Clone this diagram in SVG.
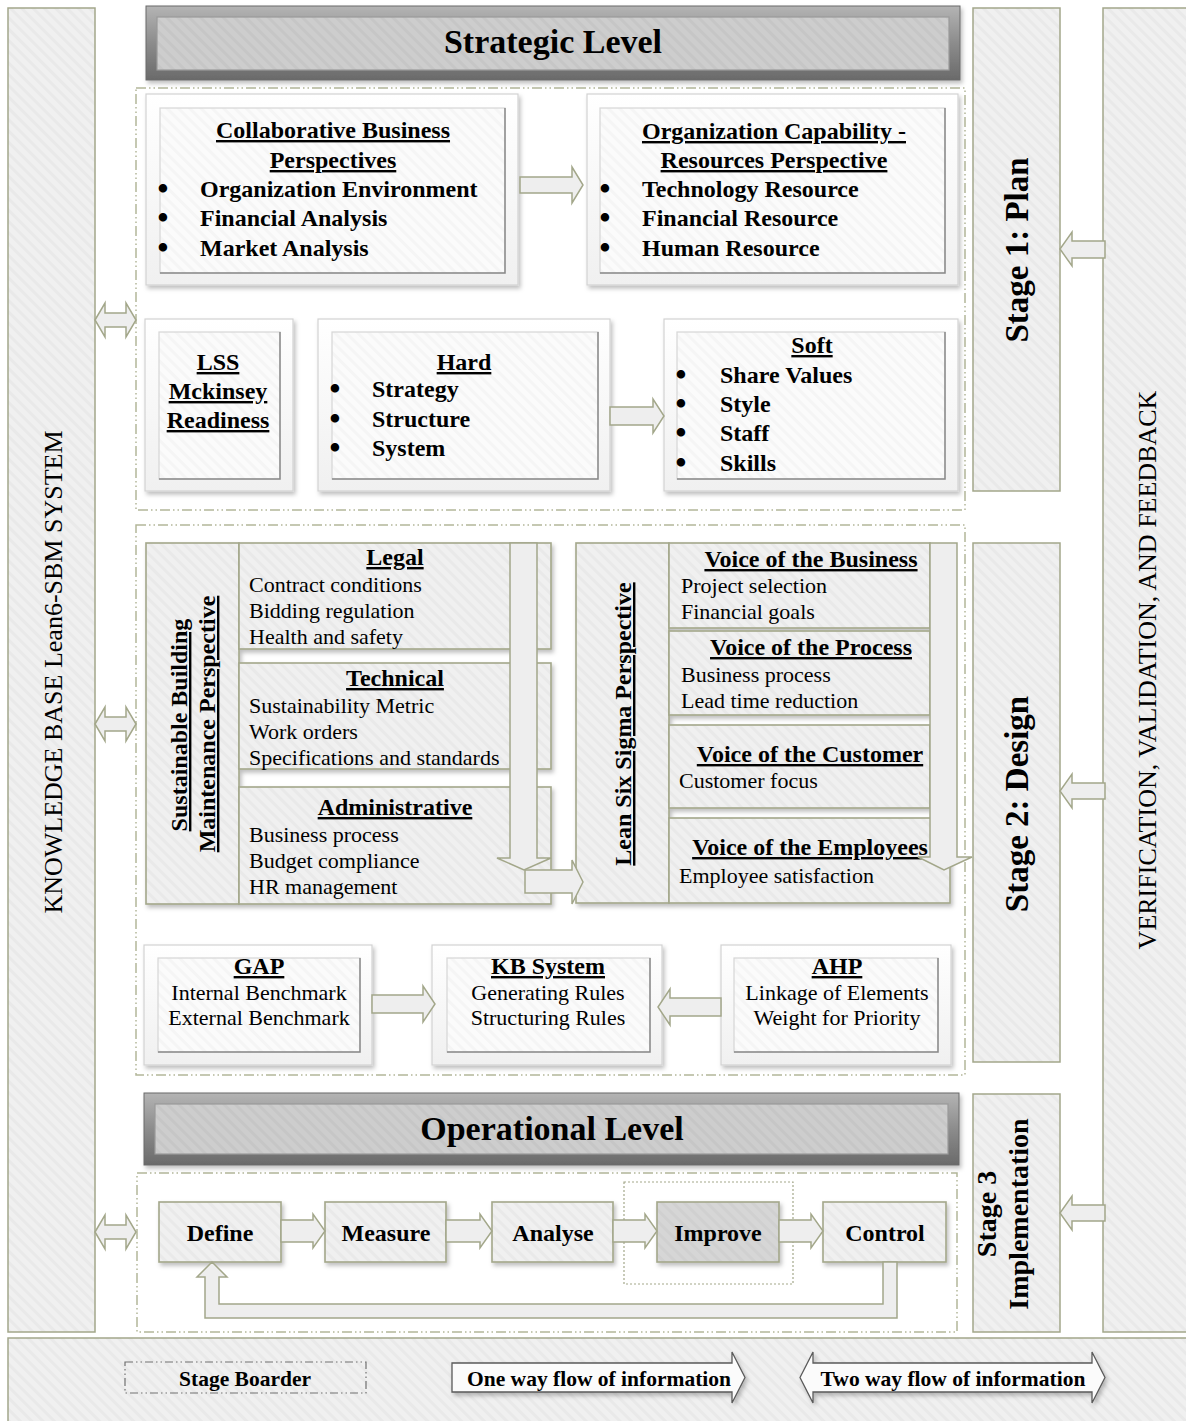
<svg xmlns="http://www.w3.org/2000/svg" width="1186" height="1421" viewBox="0 0 1186 1421">
<defs>
  <pattern id="hatch" width="8" height="8" patternUnits="userSpaceOnUse" patternTransform="rotate(-45)">
    <rect width="8" height="8" fill="#f0f0f0"/>
    <rect width="3" height="8" fill="#e9e9e9"/>
  </pattern>
  <pattern id="hatchW" width="8" height="8" patternUnits="userSpaceOnUse" patternTransform="rotate(-45)">
    <rect width="8" height="8" fill="#fbfbfb"/>
    <rect width="3" height="8" fill="#f5f5f5"/>
  </pattern>
  <pattern id="hatchG" width="8" height="8" patternUnits="userSpaceOnUse" patternTransform="rotate(-45)">
    <rect width="8" height="8" fill="#cdcdcd"/>
    <rect width="3" height="8" fill="#c6c6c6"/>
  </pattern>
  <pattern id="hatchD" width="8" height="8" patternUnits="userSpaceOnUse" patternTransform="rotate(-45)">
    <rect width="8" height="8" fill="#d6d6d6"/>
    <rect width="3" height="8" fill="#d0d0d0"/>
  </pattern>
  <linearGradient id="bevel" x1="0" y1="0" x2="0" y2="1">
    <stop offset="0" stop-color="#b4b4b4"/>
    <stop offset="0.5" stop-color="#8c8c8c"/>
    <stop offset="1" stop-color="#6a6a6a"/>
  </linearGradient>
  <linearGradient id="boxg" x1="0" y1="0" x2="0" y2="1">
    <stop offset="0" stop-color="#ffffff"/>
    <stop offset="1" stop-color="#f0f0f0"/>
  </linearGradient>
  <filter id="sh" x="-10%" y="-10%" width="130%" height="130%">
    <feDropShadow dx="2" dy="3" stdDeviation="2" flood-color="#000" flood-opacity="0.25"/>
  </filter>
  <style>
    .panel{fill:url(#hatch);stroke:#a3a78a;stroke-width:1.5}
    .stage{fill:none;stroke:#b3b699;stroke-width:1.5;stroke-dasharray:10 3 1.5 3 1.5 3}
    .outer{fill:url(#boxg);stroke:#d2d2d2;stroke-width:1.2;filter:url(#sh)}
    .inner{fill:url(#hatchW);stroke:#d6d6d6;stroke-width:1.2}
    .edge{fill:none;stroke:#8a8a8a;stroke-width:1.5}
    .cell{fill:url(#hatch);stroke:#a3a78a;stroke-width:1.6}
    .arrow{fill:#eeeeee;stroke:#a3a78a;stroke-width:1.5;stroke-linejoin:miter}
    .larrow{fill:#fbfbfb;stroke:#5a5a5a;stroke-width:1.3;filter:url(#sh)}
    text{font-family:"Liberation Serif","Times New Roman",serif;fill:#000}
    .tb{font-size:24px;font-weight:bold}
    .bl{font-size:24px;font-weight:bold;font-family:"DejaVu Serif","Liberation Serif",serif}
    .tr{font-size:22px}
    .u{text-decoration:underline}
    .big{font-size:34px;font-weight:bold}
    .stg{font-size:33px;font-weight:bold}
    .side{font-size:26px}
    .leg{font-size:21.5px;font-weight:bold}
    .c{text-anchor:middle}
  </style>
</defs>
<rect x="0" y="0" width="1186" height="1421" fill="#ffffff"/>

<!-- side panels -->
<g id="kb-panel">
  <rect class="panel" x="8" y="8" width="87" height="1324"/>
  <text class="side c" x="62" y="672" transform="rotate(-90 62 672)">KNOWLEDGE BASE Lean6-SBM SYSTEM</text>
</g>
<g id="verification-panel">
  <rect class="panel" x="1103" y="8" width="100" height="1324"/>
  <text class="side c" x="1156" y="670" transform="rotate(-90 1156 670)">VERIFICATION, VALIDATION, AND FEEDBACK</text>
</g>
<g id="stage1">
  <rect class="panel" x="973" y="8" width="87" height="483"/>
  <text class="stg c" x="1028" y="250" transform="rotate(-90 1028 250)">Stage 1: Plan</text>
</g>
<g id="stage2">
  <rect class="panel" x="973" y="543" width="87" height="519"/>
  <text class="stg c" x="1028" y="804" transform="rotate(-90 1028 804)">Stage 2: Design</text>
</g>
<g id="stage3">
  <rect class="panel" x="973" y="1094" width="87" height="238"/>
  <text class="c" style="font-size:28px;font-weight:bold" x="996" y="1214" transform="rotate(-90 996 1214)">Stage 3</text>
  <text class="c" style="font-size:28px;font-weight:bold" x="1028" y="1214" transform="rotate(-90 1028 1214)">Implementation</text>
</g>
<g id="legend-panel">
  <rect class="panel" x="8" y="1338" width="1190" height="90"/>
</g>

<!-- stage borders -->
<g id="stage-borders">
  <rect class="stage" x="136" y="88" width="829" height="422"/>
  <rect class="stage" x="136" y="525" width="829" height="550"/>
  <rect class="stage" x="137" y="1173" width="820" height="159"/>
</g>

<!-- banners -->
<g id="strategic-level">
  <rect x="146" y="6" width="814" height="74" fill="url(#bevel)" stroke="#6a6a6a" stroke-width="1" filter="url(#sh)"/>
  <rect x="157" y="17" width="792" height="53" fill="url(#hatchG)" stroke="#9a9a9a" stroke-width="1.2"/>
  <text class="big c" x="553" y="53">Strategic Level</text>
</g>
<g id="operational-level">
  <rect x="144" y="1093" width="815" height="72" fill="url(#bevel)" stroke="#6a6a6a" stroke-width="1" filter="url(#sh)"/>
  <rect x="155" y="1104" width="793" height="50" fill="url(#hatchG)" stroke="#9a9a9a" stroke-width="1.2"/>
  <text class="big c" x="552" y="1140">Operational Level</text>
</g>

<!-- Stage 1 nodes -->
<g id="collaborative">
  <rect class="outer" x="146" y="94" width="372" height="191"/>
  <rect class="inner" x="160" y="108" width="345" height="165"/>
  <polyline class="edge" points="505,108 505,273 160,273"/>
  <text class="tb u c" x="333" y="138">Collaborative Business</text>
  <text class="tb u c" x="333" y="168">Perspectives</text>
  <text class="bl c" x="163" y="197">•</text>
  <text class="bl c" x="163" y="226">•</text>
  <text class="bl c" x="163" y="256">•</text>
  <text class="tb" x="200" y="197">Organization Environment</text>
  <text class="tb" x="200" y="226">Financial Analysis</text>
  <text class="tb" x="200" y="256">Market Analysis</text>
</g>
<g id="org-capability">
  <rect class="outer" x="587" y="94" width="371" height="191"/>
  <rect class="inner" x="600" y="108" width="345" height="165"/>
  <polyline class="edge" points="945,108 945,273 600,273"/>
  <text class="tb u c" x="774" y="139">Organization Capability -</text>
  <text class="tb u c" x="774" y="168">Resources Perspective</text>
  <text class="bl c" x="605" y="197">•</text>
  <text class="bl c" x="605" y="226">•</text>
  <text class="bl c" x="605" y="256">•</text>
  <text class="tb" x="642" y="197">Technology Resource</text>
  <text class="tb" x="642" y="226">Financial Resource</text>
  <text class="tb" x="642" y="256">Human Resource</text>
</g>
<g id="lss-readiness">
  <rect class="outer" x="145" y="319" width="148" height="172"/>
  <rect class="inner" x="159" y="332" width="121" height="147"/>
  <polyline class="edge" points="280,332 280,479 159,479"/>
  <text class="tb u c" x="218" y="370">LSS</text>
  <text class="tb u c" x="218" y="399">Mckinsey</text>
  <text class="tb u c" x="218" y="428">Readiness</text>
</g>
<g id="hard">
  <rect class="outer" x="318" y="319" width="292" height="172"/>
  <rect class="inner" x="332" y="332" width="266" height="147"/>
  <polyline class="edge" points="598,332 598,479 332,479"/>
  <text class="tb u c" x="464" y="370">Hard</text>
  <text class="bl c" x="335" y="397">•</text>
  <text class="bl c" x="335" y="427">•</text>
  <text class="bl c" x="335" y="456">•</text>
  <text class="tb" x="372" y="397">Strategy</text>
  <text class="tb" x="372" y="427">Structure</text>
  <text class="tb" x="372" y="456">System</text>
</g>
<g id="soft">
  <rect class="outer" x="664" y="319" width="294" height="172"/>
  <rect class="inner" x="677" y="332" width="268" height="147"/>
  <polyline class="edge" points="945,332 945,479 677,479"/>
  <text class="tb u c" x="812" y="353">Soft</text>
  <text class="bl c" x="681" y="383">•</text>
  <text class="bl c" x="681" y="412">•</text>
  <text class="bl c" x="681" y="441">•</text>
  <text class="bl c" x="681" y="471">•</text>
  <text class="tb" x="720" y="383">Share Values</text>
  <text class="tb" x="720" y="412">Style</text>
  <text class="tb" x="720" y="441">Staff</text>
  <text class="tb" x="720" y="471">Skills</text>
</g>

<!-- Stage 2 nodes -->
<g id="sbm-perspective" filter="url(#sh)">
  <rect class="cell" x="146" y="543" width="93" height="361"/>
  <rect class="cell" x="239" y="543" width="312" height="106"/>
  <rect class="cell" x="239" y="663" width="312" height="106"/>
  <rect class="cell" x="239" y="787" width="312" height="117"/>
</g>
<g id="sbm-text">
  <text class="tb u c" x="187" y="725" transform="rotate(-90 187 725)">Sustainable Building</text>
  <text class="tb u c" x="215" y="724" transform="rotate(-90 215 724)">Maintenance Perspective</text>
  <text class="tb u c" x="395" y="565">Legal</text>
  <text class="tr" x="249" y="592">Contract conditions</text>
  <text class="tr" x="249" y="618">Bidding regulation</text>
  <text class="tr" x="249" y="644">Health and safety</text>
  <text class="tb u c" x="395" y="686">Technical</text>
  <text class="tr" x="249" y="713">Sustainability Metric</text>
  <text class="tr" x="249" y="739">Work orders</text>
  <text class="tr" x="249" y="765">Specifications and standards</text>
  <text class="tb u c" x="395" y="815">Administrative</text>
  <text class="tr" x="249" y="842">Business process</text>
  <text class="tr" x="249" y="868">Budget compliance</text>
  <text class="tr" x="249" y="894">HR management</text>
</g>
<g id="lss-perspective" filter="url(#sh)">
  <rect class="cell" x="576" y="543" width="93" height="360"/>
  <rect class="cell" x="669" y="543" width="261" height="85"/>
  <rect class="cell" x="669" y="631" width="261" height="84"/>
  <rect class="cell" x="669" y="725" width="261" height="83"/>
  <rect class="cell" x="669" y="818" width="281" height="85"/>
</g>
<g id="lss-text">
  <text class="tb u c" x="631" y="724" transform="rotate(-90 631 724)">Lean Six Sigma Perspective</text>
  <text class="tb u c" x="811" y="567">Voice of the Business</text>
  <text class="tr" x="681" y="593">Project selection</text>
  <text class="tr" x="681" y="619">Financial goals</text>
  <text class="tb u c" x="811" y="655">Voice of the Process</text>
  <text class="tr" x="681" y="682">Business process</text>
  <text class="tr" x="681" y="708">Lead time reduction</text>
  <text class="tb u c" x="810" y="762">Voice of the Customer</text>
  <text class="tr" x="679" y="788">Customer focus</text>
  <text class="tb u c" x="810" y="855">Voice of the Employees</text>
  <text class="tr" x="679" y="883">Employee satisfaction</text>
</g>
<g id="gap">
  <rect class="outer" x="144" y="945" width="228" height="120"/>
  <rect class="inner" x="158" y="958" width="202" height="94"/>
  <polyline class="edge" points="360,958 360,1052 158,1052"/>
  <text class="tb u c" x="259" y="974">GAP</text>
  <text class="tr c" x="259" y="1000">Internal Benchmark</text>
  <text class="tr c" x="259" y="1025">External Benchmark</text>
</g>
<g id="kb-system">
  <rect class="outer" x="432" y="945" width="230" height="120"/>
  <rect class="inner" x="447" y="958" width="203" height="94"/>
  <polyline class="edge" points="650,958 650,1052 447,1052"/>
  <text class="tb u c" x="548" y="974">KB System</text>
  <text class="tr c" x="548" y="1000">Generating Rules</text>
  <text class="tr c" x="548" y="1025">Structuring Rules</text>
</g>
<g id="ahp">
  <rect class="outer" x="721" y="945" width="230" height="120"/>
  <rect class="inner" x="734" y="958" width="204" height="94"/>
  <polyline class="edge" points="938,958 938,1052 734,1052"/>
  <text class="tb u c" x="837" y="974">AHP</text>
  <text class="tr c" x="837" y="1000">Linkage of Elements</text>
  <text class="tr c" x="837" y="1025">Weight for Priority</text>
</g>

<!-- Stage 3 nodes -->
<rect id="improve-focus" x="624" y="1182" width="169" height="102" fill="none" stroke="#a3a78a" stroke-width="1.2" stroke-dasharray="2 2"/>
<g id="define">
  <rect class="cell" x="159" y="1202" width="122" height="60" filter="url(#sh)"/>
  <text class="tb c" x="220" y="1241">Define</text>
</g>
<g id="measure">
  <rect class="cell" x="325" y="1202" width="121" height="60" filter="url(#sh)"/>
  <text class="tb c" x="386" y="1241">Measure</text>
</g>
<g id="analyse">
  <rect class="cell" x="492" y="1202" width="121" height="60" filter="url(#sh)"/>
  <text class="tb c" x="553" y="1241">Analyse</text>
</g>
<g id="improve">
  <rect x="657" y="1202" width="122" height="60" fill="url(#hatchD)" stroke="#a3a78a" stroke-width="1.6" filter="url(#sh)"/>
  <text class="tb c" x="718" y="1241">Improve</text>
</g>
<g id="control">
  <rect class="cell" x="823" y="1202" width="123" height="60" filter="url(#sh)"/>
  <text class="tb c" x="885" y="1241">Control</text>
</g>

<!-- connectors -->
<g id="connectors">
  <path class="arrow" d="M520,177 L572,177 L572,167 L583,185 L572,203 L572,193 L520,193 Z"/>
  <path class="arrow" d="M610,407 L653,407 L653,399 L664,416 L653,433 L653,425 L610,425 Z"/>
  <path class="arrow" d="M510,543 L537,543 L537,858 L551,858 L524,870 L497,858 L510,858 Z"/>
  <path class="arrow" d="M525,870 L572,870 L572,860 L583,882 L572,904 L572,893 L525,893 Z"/>
  <path class="arrow" d="M930,543 L957,543 L957,857 L972,857 L944,870 L918,857 L930,857 Z"/>
  <path class="arrow" d="M372,995 L423,995 L423,986 L435,1004 L423,1022 L423,1013 L372,1013 Z"/>
  <path class="arrow" d="M721,998 L670,998 L670,989 L658,1007 L670,1025 L670,1016 L721,1016 Z"/>
  <path class="arrow" d="M281,1220 L313,1220 L313,1214 L325,1231 L313,1248 L313,1242 L281,1242 Z"/>
  <path class="arrow" d="M446,1220 L480,1220 L480,1214 L492,1231 L480,1248 L480,1242 L446,1242 Z"/>
  <path class="arrow" d="M613,1220 L645,1220 L645,1214 L657,1231 L645,1248 L645,1242 L613,1242 Z"/>
  <path class="arrow" d="M779,1220 L811,1220 L811,1214 L823,1231 L811,1248 L811,1242 L779,1242 Z"/>
  <path class="arrow" d="M883,1262 L897,1262 L897,1318 L205,1318 L205,1277 L197,1277 L212,1262 L227,1277 L219,1277 L219,1304 L883,1304 Z"/>
  <path class="arrow" d="M1105,241 L1072,241 L1072,232 L1060,249 L1072,266 L1072,258 L1105,258 Z"/>
  <path class="arrow" d="M1105,783 L1072,783 L1072,774 L1060,791 L1072,808 L1072,799 L1105,799 Z"/>
  <path class="arrow" d="M1105,1205 L1072,1205 L1072,1196 L1060,1213 L1072,1230 L1072,1221 L1105,1221 Z"/>
  <path class="arrow" d="M95,320 L105,303 L105,313 L126,313 L126,303 L136,320 L126,337 L126,327 L105,327 L105,337 Z"/>
  <path class="arrow" d="M95,724 L105,707 L105,717 L126,717 L126,707 L136,724 L126,741 L126,731 L105,731 L105,741 Z"/>
  <path class="arrow" d="M95,1232 L105,1215 L105,1225 L126,1225 L126,1215 L136,1232 L126,1249 L126,1239 L105,1239 L105,1249 Z"/>
</g>

<!-- legend -->
<g id="legend-stage-border">
  <rect x="125" y="1362" width="241" height="31" fill="none" stroke="#707070" stroke-width="1.2" stroke-dasharray="8 3 1.5 3 1.5 3"/>
  <text class="leg c" x="245" y="1386">Stage Boarder</text>
</g>
<g id="legend-one-way">
  <path class="larrow" d="M452,1363 L732,1363 L732,1352 L745,1377.5 L732,1403 L732,1392 L452,1392 Z"/>
  <text class="leg c" x="599" y="1386">One way flow of information</text>
</g>
<g id="legend-two-way">
  <path class="larrow" d="M800,1377.5 L813,1352 L813,1363 L1092,1363 L1092,1352 L1105,1377.5 L1092,1403 L1092,1392 L813,1392 L813,1403 Z"/>
  <text class="leg c" x="953" y="1386">Two way flow of information</text>
</g>
</svg>
